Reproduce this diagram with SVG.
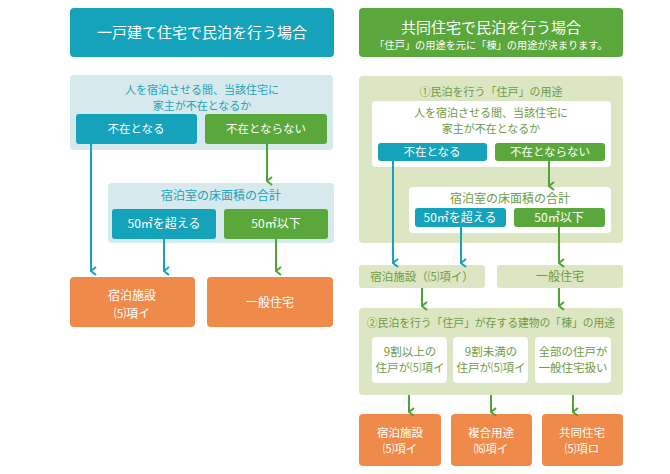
<svg xmlns="http://www.w3.org/2000/svg" width="670" height="474" viewBox="0 0 670 474">
<defs>
<style>
text{font-family:"Noto Sans CJK JP","Noto Sans",sans-serif;text-anchor:middle;}
.teal{fill:#14a3ba;}
.green{fill:#5aa83c;}
.orange{fill:#f08a4a;}
.lblue{fill:#d6e9ed;}
.lgreen{fill:#dde6c3;}
.white{fill:#ffffff;}
.tw{fill:#ffffff;}
.tt{fill:#1ea2b8;}
.tg{fill:#6d9b45;}
.ct{stroke:#14a3ba;stroke-width:2;fill:none;}
.cg{stroke:#4ea535;stroke-width:2;fill:none;}
</style>
<marker id="at" viewBox="0 0 10 10" refX="5" refY="9" markerWidth="10" markerHeight="10" markerUnits="userSpaceOnUse" orient="auto-start-reverse">
<path d="M1,4 L5,9 L9,4" fill="none" stroke="#14a3ba" stroke-width="2"/>
</marker>
<marker id="ag" viewBox="0 0 10 10" refX="5" refY="9" markerWidth="10" markerHeight="10" markerUnits="userSpaceOnUse" orient="auto-start-reverse">
<path d="M1,4 L5,9 L9,4" fill="none" stroke="#4ea535" stroke-width="2"/>
</marker>
</defs>
<rect width="670" height="474" fill="#ffffff"/>

<!-- Left side -->
<g id="left-title">
<rect class="teal" x="70" y="8" width="264" height="49" rx="4"/>
<text class="tw" x="202" y="38" font-size="15">一戸建て住宅で民泊を行う場合</text>
</g>
<g id="left-q1">
<rect class="lblue" x="70" y="75" width="263" height="75" rx="4"/>
<text class="tt" x="202" y="94" font-size="11">人を宿泊させる間、当該住宅に</text>
<text class="tt" x="202" y="110" font-size="11">家主が不在となるか</text>
</g>
<g id="left-absent">
<rect class="teal" x="76" y="114" width="121" height="30" rx="3"/>
<text class="tw" x="136" y="133" font-size="11.5">不在となる</text>
</g>
<g id="left-notabsent">
<rect class="green" x="205" y="114" width="122" height="30" rx="3"/>
<text class="tw" x="266" y="133" font-size="11.5">不在とならない</text>
</g>
<g id="left-q2">
<rect class="lblue" x="108" y="183" width="226" height="60" rx="4"/>
<text class="tt" x="221" y="200" font-size="12">宿泊室の床面積の合計</text>
</g>
<g id="left-over50">
<rect class="teal" x="112" y="209" width="104" height="30" rx="3"/>
<text class="tw" x="164" y="228" font-size="12">50㎡を超える</text>
</g>
<g id="left-under50">
<rect class="green" x="224" y="209" width="104" height="30" rx="3"/>
<text class="tw" x="276" y="228" font-size="12">50㎡以下</text>
</g>
<g id="left-lodging">
<rect class="orange" x="70" y="277" width="125" height="50" rx="4"/>
<text class="tw" x="132" y="300" font-size="12">宿泊施設</text>
<text class="tw" x="132" y="317.5" font-size="12">⑸項イ</text>
</g>
<g id="left-house">
<rect class="orange" x="207" y="277" width="126" height="50" rx="4"/>
<text class="tw" x="270" y="306.5" font-size="12">一般住宅</text>
</g>

<!-- Right side -->
<g id="right-title">
<rect class="green" x="359" y="8" width="264" height="49" rx="4"/>
<text class="tw" x="491" y="33" font-size="15">共同住宅で民泊を行う場合</text>
<text class="tw" x="491" y="49" font-size="10.2">「住戸」の用途を元に「棟」の用途が決まります。</text>
</g>
<g id="right-step1">
<rect class="lgreen" x="359" y="76" width="264" height="167" rx="4"/>
<text class="tg" x="491" y="96" font-size="11">①民泊を行う「住戸」の用途</text>
</g>
<g id="right-q1">
<rect class="white" x="372" y="101" width="239" height="66" rx="4"/>
<text class="tg" x="491" y="117" font-size="11">人を宿泊させる間、当該住宅に</text>
<text class="tg" x="491" y="133" font-size="11">家主が不在となるか</text>
</g>
<g id="right-absent">
<rect class="teal" x="378" y="143" width="109" height="18" rx="3"/>
<text class="tw" x="432" y="156" font-size="11.5">不在となる</text>
</g>
<g id="right-notabsent">
<rect class="green" x="495" y="143" width="110" height="18" rx="3"/>
<text class="tw" x="550" y="156" font-size="11.5">不在とならない</text>
</g>
<g id="right-q2">
<rect class="white" x="409" y="187" width="202" height="46" rx="4"/>
<text class="tg" x="510" y="203" font-size="12">宿泊室の床面積の合計</text>
</g>
<g id="right-over50">
<rect class="teal" x="415" y="208" width="91" height="19" rx="3"/>
<text class="tw" x="460" y="222" font-size="12">50㎡を超える</text>
</g>
<g id="right-under50">
<rect class="green" x="514" y="208" width="91" height="19" rx="3"/>
<text class="tw" x="559" y="222" font-size="12">50㎡以下</text>
</g>
<g id="right-lodging">
<rect class="lgreen" x="359" y="265" width="126" height="23" rx="3"/>
<text class="tg" x="422" y="281" font-size="11.5">宿泊施設（⑸項イ）</text>
</g>
<g id="right-house">
<rect class="lgreen" x="497" y="265" width="126" height="23" rx="3"/>
<text class="tg" x="560" y="281" font-size="12">一般住宅</text>
</g>
<g id="right-step2">
<rect class="lgreen" x="359" y="308" width="264" height="87" rx="4"/>
<text class="tg" x="491" y="327" font-size="10.8">②民泊を行う「住戸」が存する建物の「棟」の用途</text>
</g>
<g id="right-c1">
<rect class="white" x="372" y="337" width="75" height="46" rx="4"/>
<text class="tg" x="410" y="355.5" font-size="11.5">9割以上の</text>
<text class="tg" x="410" y="372" font-size="11.5">住戸が⑸項イ</text>
</g>
<g id="right-c2">
<rect class="white" x="453" y="337" width="75" height="46" rx="4"/>
<text class="tg" x="491" y="355.5" font-size="11.5">9割未満の</text>
<text class="tg" x="491" y="372" font-size="11.5">住戸が⑸項イ</text>
</g>
<g id="right-c3">
<rect class="white" x="535" y="337" width="76" height="46" rx="4"/>
<text class="tg" x="573" y="355.5" font-size="11.5">全部の住戸が</text>
<text class="tg" x="573" y="372" font-size="11.5">一般住宅扱い</text>
</g>
<g id="right-r1">
<rect class="orange" x="359" y="414" width="82" height="52" rx="4"/>
<text class="tw" x="400" y="436.5" font-size="11.5">宿泊施設</text>
<text class="tw" x="400" y="453" font-size="11.5">⑸項イ</text>
</g>
<g id="right-r2">
<rect class="orange" x="451" y="414" width="81" height="52" rx="4"/>
<text class="tw" x="491" y="436.5" font-size="11.5">複合用途</text>
<text class="tw" x="491" y="453" font-size="11.5">⒃項イ</text>
</g>
<g id="right-r3">
<rect class="orange" x="542" y="414" width="81" height="52" rx="4"/>
<text class="tw" x="582" y="436.5" font-size="11.5">共同住宅</text>
<text class="tw" x="582" y="453" font-size="11.5">⑸項ロ</text>
</g>

<g id="connectors">
<line class="ct" x1="91" y1="144" x2="91" y2="271" marker-end="url(#at)"/>
<line class="cg" x1="267" y1="144" x2="267" y2="181" marker-end="url(#ag)"/>
<line class="ct" x1="164" y1="239" x2="164" y2="271" marker-end="url(#at)"/>
<line class="cg" x1="276" y1="239" x2="276" y2="271" marker-end="url(#ag)"/>
<line class="ct" x1="393" y1="161" x2="393" y2="263" marker-end="url(#at)"/>
<line class="cg" x1="549" y1="161" x2="549" y2="186" marker-end="url(#ag)"/>
<line class="ct" x1="461" y1="227" x2="461" y2="263" marker-end="url(#at)"/>
<line class="cg" x1="559" y1="227" x2="559" y2="263" marker-end="url(#ag)"/>
<line class="cg" x1="422" y1="288" x2="422" y2="306" marker-end="url(#ag)"/>
<line class="cg" x1="559" y1="288" x2="559" y2="306" marker-end="url(#ag)"/>
<line class="cg" x1="409" y1="395" x2="409" y2="412" marker-end="url(#ag)"/>
<line class="cg" x1="491" y1="395" x2="491" y2="412" marker-end="url(#ag)"/>
<line class="cg" x1="573" y1="395" x2="573" y2="412" marker-end="url(#ag)"/>
</g>
</svg>
